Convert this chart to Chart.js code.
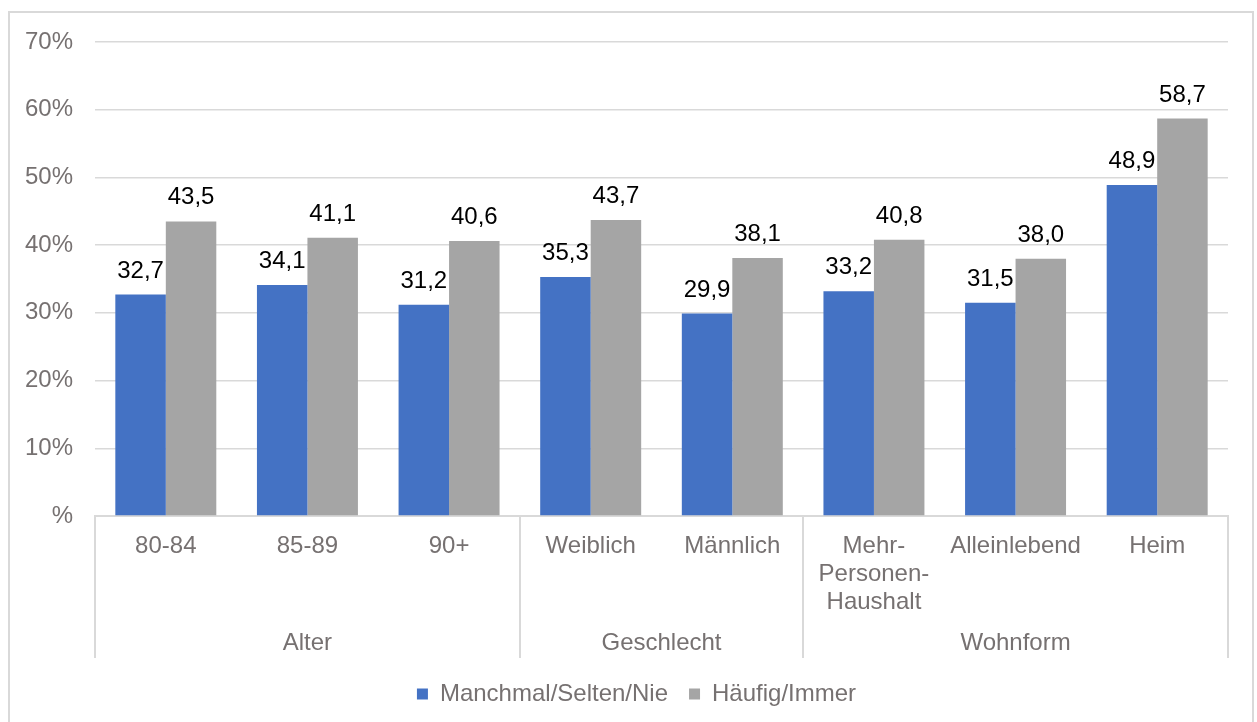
<!DOCTYPE html>
<html>
<head>
<meta charset="utf-8">
<script src="https://cdn.jsdelivr.net/npm/chart.js@4"></script>
<style>
  html, body { margin: 0; padding: 0; background: #fff; }
  #frame { position: absolute; left: 8px; top: 11px; width: 1246px; height: 720px; border: 2px solid #d9d9d9; box-sizing: border-box; }
  #wrap { position: absolute; left: 0; top: 0; width: 1257px; height: 722px; }
</style>
</head>
<body>
<div id="frame"></div>
<div id="wrap"><canvas id="chart"></canvas></div>
<script>
    // Chart data
    const categories = ['80-84', '85-89', '90+', 'Weiblich', 'Männlich', ['Mehr-', 'Personen-', 'Haushalt'], 'Alleinlebend', 'Heim'];
    const groupLabels = ['Alter', 'Geschlecht', 'Wohnform'];
    const groupSizes = [3, 2, 3];
    const seriesNames = ['Manchmal/Selten/Nie', 'Häufig/Immer'];
    const seltenValues = [32.7, 34.1, 31.2, 35.3, 29.9, 33.2, 31.5, 48.9];
    const haeufigValues = [43.5, 41.1, 40.6, 43.7, 38.1, 40.8, 38.0, 58.7];
    const yTicks = [0, 10, 20, 30, 40, 50, 60, 70];

    const FONT = "'Liberation Sans', Arial, sans-serif";
    const FONT_SIZE = 24;
    const TEXT_GRAY = '#767171';
    const LINE_GRAY = '#d9d9d9';

    // Value labels above each bar
    const valueLabels = {
      id: 'valueLabels',
      afterDatasetsDraw(chart) {
        const ctx = chart.ctx;
        ctx.save();
        ctx.font = FONT_SIZE + 'px ' + FONT;
        ctx.fillStyle = '#000';
        ctx.textAlign = 'center';
        ctx.textBaseline = 'alphabetic';
        chart.data.datasets.forEach((ds, di) => {
          chart.getDatasetMeta(di).data.forEach((bar, i) => {
            ctx.fillText(ds.data[i].toFixed(1).replace('.', ','), bar.x, bar.y - 17);
          });
        });
        ctx.restore();
      }
    };

    // Group separators and group names under the category axis
    const groupAxis = {
      id: 'groupAxis',
      afterDraw(chart) {
        const x = chart.scales.x;
        const ctx = chart.ctx;
        const half = (x.getPixelForValue(1) - x.getPixelForValue(0)) / 2;
        const top = chart.chartArea.bottom;
        const bottom = top + 142;
        ctx.save();
        ctx.strokeStyle = LINE_GRAY;
        ctx.lineWidth = 2;
        ctx.font = FONT_SIZE + 'px ' + FONT;
        ctx.fillStyle = TEXT_GRAY;
        ctx.textAlign = 'center';
        ctx.textBaseline = 'middle';
        let start = 0;
        const edges = [x.getPixelForValue(0) - half];
        groupSizes.forEach((size, g) => {
          const left = x.getPixelForValue(start) - half;
          const right = x.getPixelForValue(start + size - 1) + half;
          edges.push(right);
          ctx.fillText(groupLabels[g], (left + right) / 2, top + 127);
          start += size;
        });
        edges.forEach(ex => {
          ctx.beginPath();
          ctx.moveTo(Math.round(ex), top);
          ctx.lineTo(Math.round(ex), bottom);
          ctx.stroke();
        });
        ctx.restore();
      }
    };

    Chart.defaults.font.family = FONT;
    Chart.defaults.font.size = FONT_SIZE;
    Chart.defaults.color = TEXT_GRAY;

    new Chart(document.getElementById('chart'), {
      type: 'bar',
      data: {
        labels: categories,
        datasets: [{
          label: seriesNames[0],
          data: seltenValues,
          backgroundColor: '#4472c4'
        }, {
          label: seriesNames[1],
          data: haeufigValues,
          backgroundColor: '#a5a5a5'
        }]
      },
      options: {
        responsive: true,
        maintainAspectRatio: false,
        animation: false,
        categoryPercentage: 0.713,
        barPercentage: 1,
        layout: {
          padding: { top: 42, left: 16, right: 0, bottom: 6 }
        },
        scales: {
          x: {
            grid: { display: false },
            border: { display: true, color: LINE_GRAY, width: 2 },
            ticks: {
              maxRotation: 0,
              autoSkip: false,
              padding: 9,
              color: TEXT_GRAY,
              font: { size: FONT_SIZE, lineHeight: 1.15 }
            },
            afterFit(scale) { scale.height = 145; }
          },
          y: {
            min: 0,
            max: 70,
            afterBuildTicks(scale) { scale.ticks = yTicks.map(v => ({ value: v })); },
            grid: { color: LINE_GRAY, lineWidth: 1.5, drawTicks: false },
            border: { display: false },
            ticks: {
              padding: 22,
              color: TEXT_GRAY,
              callback: v => v === 0 ? '%' : v + '%'
            },
            afterFit(scale) { scale.width = 79; }
          },
          y2: {
            position: 'right',
            display: true,
            grid: { display: false },
            border: { display: false },
            ticks: { display: false },
            afterFit(scale) { scale.width = 29; }
          }
        },
        plugins: {
          legend: {
            position: 'bottom',
            labels: {
              boxWidth: 11,
              boxHeight: 11,
              padding: 21,
              color: TEXT_GRAY
            }
          },
          tooltip: { enabled: false }
        }
      },
      plugins: [valueLabels, groupAxis]
    });
</script>
</body>
</html>
